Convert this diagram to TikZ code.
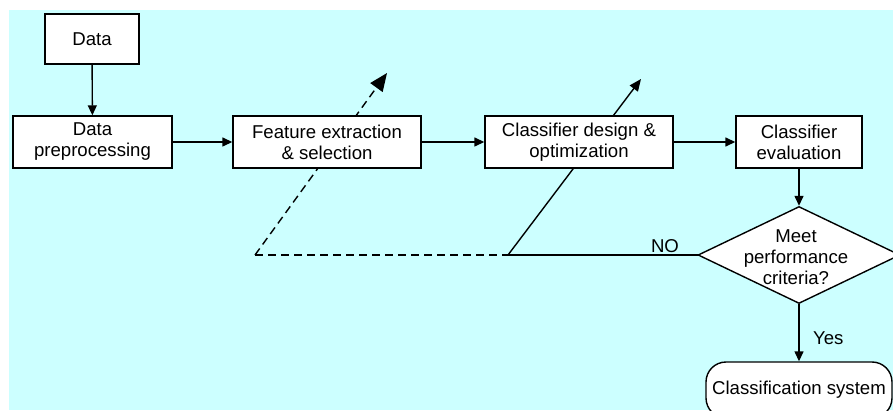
\documentclass[tikz,border=0pt]{standalone}
\usepackage{fontspec}
\setmainfont{Liberation Sans}
\usetikzlibrary{arrows.meta,shapes.geometric}
\definecolor{bgcyan}{RGB}{204,255,255}
\begin{document}
\begin{tikzpicture}[x=1pt, y=-1pt, line width=1.4pt, >={Triangle[length=10pt,width=9pt]}, font=\fontsize{18.6}{21}\selectfont]
	\tikzset{box/.style={draw, fill=white, inner sep=0pt, align=center, minimum height=52pt},
		decision/.style={draw, fill=white, diamond, inner sep=0pt, minimum width=202pt, minimum height=97pt},
		terminal/.style={draw, fill=white, rounded corners=20pt, inner sep=0pt, minimum width=186pt, minimum height=56pt},
		dashline/.style={dash pattern=on 8pt off 5pt}}
	\useasboundingbox (0,0) rectangle (893,411);
	\clip (0,0) rectangle (893,411);
	\fill[bgcyan] (9,10) rectangle (893,410);
	% feedback lines, drawn behind the boxes
	\coordinate (fsFoot) at (255,255); \coordinate (fsTip) at (387,73);
	\coordinate (cdFoot) at (508,255); \coordinate (cdTip) at (641,79);
	\draw[dashline, -{Triangle[length=18pt,width=15pt]}] (fsFoot)--(fsTip);
	\draw[-{Triangle[length=12pt,width=10pt]}] (cdFoot)--(cdTip);
	% boxes
	\node[box, minimum width=94pt, minimum height=50pt] (data) at (92,39) {Data};
	\node[box, minimum width=159pt] (prep) at (92.5,142) {Data\\preprocessing};
	\node[box, minimum width=188pt] (feat) at (327,142) {Feature extraction\\\& selection};
	\node[box, minimum width=188pt] (design) at (579,142) {Classifier design \&\\optimization};
	\node[box, minimum width=126pt] (eval) at (799,142) {Classifier\\evaluation};
	\node[decision] (meet) at (799,255) {};
	\node[align=center] (meetText) at (796,257) {Meet\\performance\\criteria?};
	\node[terminal] (sys) at (799,390) {Classification system};
	% connectors
	\draw[->] (data)--(prep);
	\foreach \a/\b in {prep/feat, feat/design, design/eval, eval/meet} \draw[->] (\a)--(\b);
	\draw[->] (meet)--node[pos=0.6, right=10pt]{Yes} (sys);
	\draw[dashline] (fsFoot)--(meet.west);
	\draw (cdFoot)--(meet.west);
	\node (no) at (665,246) {NO};
\end{tikzpicture}
\end{document}
